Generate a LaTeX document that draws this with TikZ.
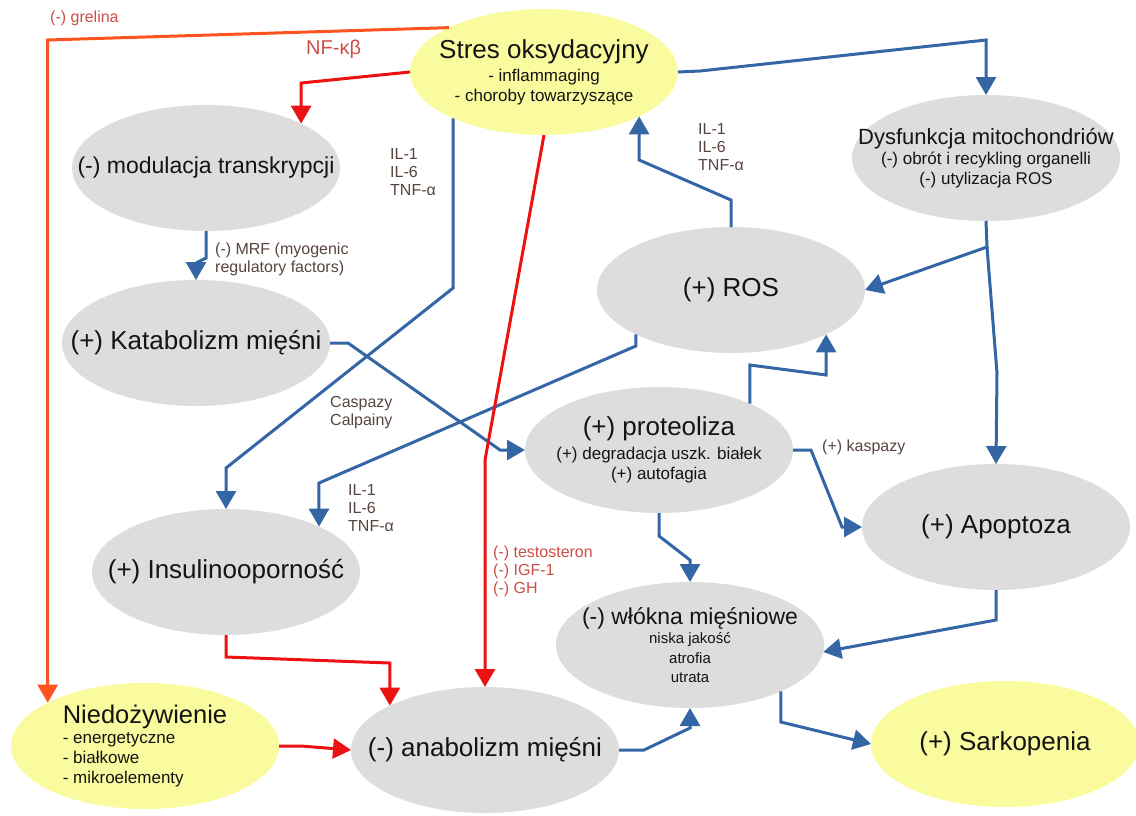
\documentclass[tikz,border=0pt]{standalone}
\usepackage{fontspec}
\setmainfont{Liberation Sans}
\usepackage{tikz}
\usetikzlibrary{arrows.meta,shapes.geometric,positioning}
\definecolor{lineblue}{RGB}{52,101,164}
\definecolor{linered}{RGB}{236,18,18}
\definecolor{lineorange}{RGB}{255,84,32}
\definecolor{ellgrey}{RGB}{221,221,221}
\definecolor{ellyellow}{RGB}{250,250,158}
\definecolor{labbrown}{RGB}{88,68,62}
\definecolor{labred}{RGB}{204,78,70}
\newcommand{\headtext}[1]{{\fontsize{26}{30}\selectfont #1}}

\begin{document}
\begin{tikzpicture}
[x=1pt,y=-1pt,
 proc/.style={ellipse,fill=ellgrey,inner xsep=-45pt,inner ysep=-20pt,outer sep=0pt,minimum width=268pt,minimum height=126pt,align=center,text=black!92,font=\fontsize{17}{20}\selectfont},
 cause/.style={proc,fill=ellyellow},
 lab/.style={anchor=north west,align=left,inner sep=0pt,text=labbrown,font=\fontsize{16}{18}\selectfont},
 bluearrow/.style={draw=lineblue,line width=3pt,-{Triangle[width=20pt,length=18pt]}},
 redarrow/.style={bluearrow,draw=linered},
 orangearrow/.style={bluearrow,draw=lineorange}]
\useasboundingbox (0,0) rectangle (1136,815);

\node[cause] (stres) at (544,72) {\headtext{Stres oksydacyjny}\\[3pt] - inflammaging\\ - choroby towarzyszące};
\node[proc] (mod) at (206,168) {{\fontsize{23}{27}\selectfont (-) modulacja transkrypcji}};
\node[proc] (dys) at (986,158) {{\fontsize{22}{26}\selectfont Dysfunkcja mitochondriów}\\ (-) obrót i recykling organelli\\ (-) utylizacja ROS};
\node[proc] (kat) at (196,343) {\headtext{(+) Katabolizm mięśni}};
\node[proc] (ros) at (731,290) {\headtext{(+) ROS}};
\node[proc] (prot) at (659,450) {\headtext{(+) proteoliza}\\[4pt] (+) degradacja uszk. białek\\ (+) autofagia};
\node[proc] (apo) at (996,527) {\headtext{(+) Apoptoza}};
\node[proc] (ins) at (226,572) {\headtext{(+) Insulinooporność}};
\node[proc] (wlo) at (690,645) [font=\fontsize{15}{19.5}\selectfont] {{\fontsize{23}{27}\selectfont (-) włókna mięśniowe}\\ niska jakość\\ atrofia\\ utrata};
\node[cause] (nied) at (145,746) [align=left] {{\fontsize{25.5}{29}\selectfont Niedożywienie}\\ - energetyczne\\ - białkowe\\ - mikroelementy};
\node[proc] (ana) at (485,750) {\headtext{(-) anabolizm mięśni}};
\node[cause] (sark) at (1005,744) {\headtext{(+) Sarkopenia}};

\node[lab,text=labred] (grelina) at (50,11) {(-) grelina};
\node[lab,text=labred,font=\fontsize{20}{24}\selectfont] (nfkb) at (306,40) {NF-κβ};
\node[lab] (cyt1) at (390,148) {IL-1\\IL-6\\TNF-α};
\node[lab] (cyt2) at (698,123) {IL-1\\IL-6\\TNF-α};
\node[lab] (cyt3) at (348,484) {IL-1\\IL-6\\TNF-α};
\node[lab] (mrf) at (215,243) {(-) MRF (myogenic\\regulatory factors)};
\node[lab] (casp) at (330,396) {Caspazy\\Calpainy};
\node[lab] (kasp) at (822,440) {(+) kaspazy};
\node[lab,text=labred] (horm) at (493,546) {(-) testosteron\\(-) IGF-1\\(-) GH};

\coordinate (split) at (987,247);

\draw [orangearrow] (stres.155) -- (nied.156 |- 0,40) -- (nied.156);
\draw [redarrow] (stres.west) -- (390,74) -- (mod.25 |- 0,83) -- (mod.25);
\draw [bluearrow] (stres.east) -- (700,71) -- (dys.north |- 0,40) -- (dys.north);
\draw [bluearrow] (ros.north) -- (ros.north |- 0,200) -- (stres.-25 |- 0,160) -- (stres.-25);
\draw [bluearrow] (stres.207) -- (stres.207 |- 0,288) -- (ins.north |- 0,468) -- (ins.north);
\draw [bluearrow] (mod.south) -- (mod.south |- 0,258) -- (kat.north |- 0,263) -- (kat.north);
\draw [bluearrow] (kat.east) -- ++(18,0) -- (prot.west -| 500,0) -- (prot.west);
\draw [bluearrow] (ros.205) -- (ros.205 |- 0,346) -- (ins.26 |- 0,483) -- (ins.26);
\draw [bluearrow] (prot.27) -- (prot.27 |- 0,365) -- (ros.-25 |- 0,375) -- (ros.-25);
\draw [bluearrow] (dys.south) -- (split) -- (ros.east);
\draw [bluearrow] (split) -- (997,373) -- (apo.north);
\draw [bluearrow] (prot.east) -- ++(18,0) -- (apo.west -| 842,0) -- (apo.west);
\draw [bluearrow] (prot.south) -- ++(0,23) -- (wlo.north |- 0,560) -- (wlo.north);
\draw [bluearrow] (apo.south) -- ++(0,30) -- (wlo.-3);
\draw [bluearrow] (wlo.-27) -- (wlo.-27 |- 0,722) -- (sark.west);
\draw [bluearrow] (ana.east) -- ++(25,0) -- (wlo.south |- 0,728) -- (wlo.south);
\draw [redarrow] (ins.south) -- ++(0,22) -- (ana.155 |- 0,663) -- (ana.155);
\draw [redarrow] (nied.east) -- ++(22,0) -- (ana.west);
\draw [redarrow] (stres.south) -- (ana.north |- 0,460) -- (ana.north);
\end{tikzpicture}
\end{document}
